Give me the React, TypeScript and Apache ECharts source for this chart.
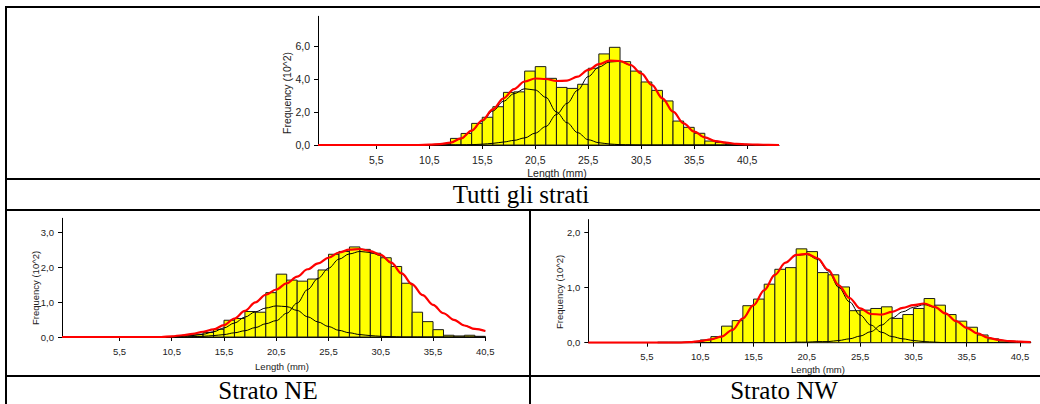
import React, { useEffect, useRef } from "react";
import * as echarts from "echarts";

// Shared x tick positions (bin edges every 5 mm)
const xTickValues = [5.5, 10.5, 15.5, 20.5, 25.5, 30.5, 35.5, 40.5];

// ---- Tutti gli strati ----
const allBins = [10, 11, 12, 13, 14, 15, 16, 17, 18, 19, 20, 21, 22, 23, 24, 25, 26, 27, 28, 29, 30, 31, 32, 33, 34, 35, 36, 37, 38, 39, 40, 41, 42];
const allFreq = [0.02, 0.03, 0.06, 0.4, 0.7, 1.31, 1.68, 2.32, 3.19, 3.22, 4.48, 4.75, 4.04, 3.49, 3.43, 3.68, 4.65, 5.52, 5.92, 5.05, 4.48, 3.82, 3.31, 2.67, 1.45, 1.07, 0.71, 0.24, 0.16, 0.06, 0.04, 0.02, 0.01];
const allCurveX = [0, 9.5, 10.5, 11.5, 12.5, 13.5, 14.5, 15.5, 16.5, 17.5, 18.5, 19.5, 20.5, 21.5, 22.5, 23.5, 24.5, 25.5, 26.5, 27.5, 28.5, 29.5, 30.5, 31.5, 32.5, 33.5, 34.5, 35.5, 36.5, 37.5, 38.5, 39.5, 40.5, 41.5, 42.5, 43.5];
const allFit = [0, 0, 0.02, 0.05, 0.14, 0.4, 0.87, 1.5, 2.16, 2.83, 3.39, 3.85, 4.03, 4.0, 3.88, 3.9, 4.14, 4.55, 4.9, 5.11, 5.09, 4.85, 4.34, 3.64, 2.83, 2.02, 1.31, 0.81, 0.46, 0.24, 0.14, 0.07, 0.04, 0.02, 0.01, 0];
const allComp1 = [0, 0, 0.02, 0.05, 0.13, 0.38, 0.85, 1.45, 2.06, 2.65, 3.11, 3.41, 3.33, 2.89, 2.0, 1.35, 0.75, 0.32, 0.14, 0.06, 0.02, 0.01, 0, 0, 0, 0, 0, 0, 0, 0, 0, 0, 0, 0, 0, 0];
const allComp2 = [0, 0, 0, 0, 0.01, 0.01, 0.02, 0.05, 0.1, 0.18, 0.28, 0.43, 0.72, 1.12, 1.85, 2.52, 3.32, 4.15, 4.72, 5.03, 5.07, 4.84, 4.34, 3.64, 2.83, 2.02, 1.31, 0.81, 0.46, 0.24, 0.13, 0.06, 0.03, 0.01, 0, 0];
const allYTicks = [0, 2, 4, 6];

// ---- Strato NE ----
const neBins = [9, 10, 11, 12, 13, 14, 15, 16, 17, 18, 19, 20, 21, 22, 23, 24, 25, 26, 27, 28, 29, 30, 31, 32, 33, 34, 35, 36, 37, 38, 39, 40];
const neFreq = [0.01, 0.01, 0.02, 0.05, 0.08, 0.13, 0.22, 0.48, 0.53, 0.73, 0.71, 1.27, 1.8, 1.63, 1.6, 1.66, 1.92, 2.37, 2.45, 2.58, 2.51, 2.4, 2.27, 2.02, 1.54, 0.71, 0.44, 0.21, 0.05, 0.03, 0.05, 0.02];
const neCurveX = [0, 9.5, 10.5, 11.5, 12.5, 13.5, 14.5, 15.5, 16.5, 17.5, 18.5, 19.5, 20.5, 21.5, 22.5, 23.5, 24.5, 25.5, 26.5, 27.5, 28.5, 29.5, 30.5, 31.5, 32.5, 33.5, 34.5, 35.5, 36.5, 37.5, 38.5, 39.5, 40.5];
const neFit = [0, 0, 0.02, 0.05, 0.09, 0.15, 0.22, 0.34, 0.53, 0.75, 0.99, 1.21, 1.36, 1.54, 1.73, 1.94, 2.11, 2.27, 2.42, 2.5, 2.52, 2.46, 2.35, 2.13, 1.82, 1.51, 1.2, 0.92, 0.68, 0.49, 0.33, 0.23, 0.17];
const neComp1 = [0, 0, 0.01, 0.02, 0.04, 0.08, 0.15, 0.26, 0.4, 0.57, 0.72, 0.83, 0.89, 0.87, 0.76, 0.58, 0.43, 0.3, 0.19, 0.12, 0.07, 0.04, 0.02, 0.01, 0, 0, 0, 0, 0, 0, 0, 0, 0];
const neComp2 = [0, 0, 0, 0, 0.01, 0.02, 0.04, 0.07, 0.12, 0.18, 0.27, 0.38, 0.47, 0.68, 0.97, 1.36, 1.68, 1.97, 2.23, 2.38, 2.45, 2.42, 2.33, 2.12, 1.81, 1.51, 1.2, 0.92, 0.68, 0.49, 0.33, 0.23, 0.17];
const neYTicks = [0, 1, 2, 3];

// ---- Strato NW ----
const nwBins = [7, 8, 9, 10, 11, 12, 13, 14, 15, 16, 17, 18, 19, 20, 21, 22, 23, 24, 25, 26, 27, 28, 29, 30, 31, 32, 33, 34, 35, 36, 37, 38, 39, 40, 41];
const nwFreq = [0.01, 0.01, 0.01, 0.02, 0.05, 0.11, 0.3, 0.4, 0.67, 0.79, 1.06, 1.33, 1.36, 1.7, 1.65, 1.27, 1.23, 1.01, 0.58, 0.59, 0.62, 0.65, 0.44, 0.51, 0.62, 0.8, 0.68, 0.51, 0.39, 0.28, 0.14, 0.07, 0.03, 0.02, 0.01];
const nwCurveX = [0, 8.5, 9.5, 10.5, 11.5, 12.5, 13.5, 14.5, 15.5, 16.5, 17.5, 18.5, 19.5, 20.5, 21.5, 22.5, 23.5, 24.5, 25.5, 26.5, 27.5, 28.5, 29.5, 30.5, 31.5, 32.5, 33.5, 34.5, 35.5, 36.5, 37.5, 38.5, 39.5, 40.5, 41.5];
const nwFit = [0, 0, 0.01, 0.03, 0.06, 0.11, 0.23, 0.44, 0.68, 0.95, 1.23, 1.45, 1.59, 1.61, 1.53, 1.32, 1.04, 0.81, 0.62, 0.52, 0.51, 0.56, 0.63, 0.68, 0.71, 0.65, 0.53, 0.39, 0.27, 0.17, 0.09, 0.05, 0.03, 0.02, 0.01];
const nwComp1 = [0, 0, 0.01, 0.03, 0.06, 0.11, 0.23, 0.44, 0.68, 0.95, 1.23, 1.45, 1.58, 1.6, 1.51, 1.3, 1.0, 0.74, 0.5, 0.32, 0.19, 0.11, 0.07, 0.04, 0.02, 0.01, 0, 0, 0, 0, 0, 0, 0, 0, 0];
const nwComp2 = [0, 0, 0, 0, 0, 0, 0, 0, 0, 0, 0, 0, 0.01, 0.01, 0.02, 0.02, 0.04, 0.07, 0.12, 0.2, 0.32, 0.45, 0.56, 0.64, 0.69, 0.64, 0.53, 0.39, 0.27, 0.17, 0.09, 0.05, 0.03, 0.02, 0.01];
const nwYTicks = [0, 1, 2];

const captions = ["Tutti gli strati", "Strato NE", "Strato NW"];
const xName = "Length (mm)";
const yName = "Frequency (10^2)";

const fmt = (v: number) => v.toFixed(1).replace(".", ",");
const pairs = (xs: number[], ys: number[]) => xs.map((x, i) => [x, ys[i]]);

const panels = [
  {
    grid: { left: 318, top: 16.3, width: 461, height: 128.7 },
    xMax: 43.5, yMax: 7.8, font: 10.5, yTicks: allYTicks,
    bins: allBins, freq: allFreq, cx: allCurveX, fit: allFit, c1: allComp1, c2: allComp2,
    xNamePos: [557, 172.5], yNamePos: [287, 93],
  },
  {
    grid: { left: 62, top: 218.3, width: 423.3, height: 118.7 },
    xMax: 40.5, yMax: 3.4, font: 9.5, yTicks: neYTicks,
    bins: neBins, freq: neFreq, cx: neCurveX, fit: neFit, c1: neComp1, c2: neComp2,
    xNamePos: [282, 366.5], yNamePos: [35, 288],
  },
  {
    grid: { left: 588.3, top: 219.6, width: 442.4, height: 123.1 },
    xMax: 41.5, yMax: 2.23, font: 9.5, yTicks: nwYTicks,
    bins: nwBins, freq: nwFreq, cx: nwCurveX, fit: nwFit, c1: nwComp1, c2: nwComp2,
    xNamePos: [818, 369.5], yNamePos: [559, 292],
  },
];

const SANS = "'Liberation Sans', Arial, sans-serif";
const SERIF = "'Liberation Serif', 'Times New Roman', serif";

function buildOption() {
  const grids: any[] = [];
  const xAxes: any[] = [];
  const yAxes: any[] = [];
  const series: any[] = [];
  const graphics: any[] = [];

  panels.forEach((p, i) => {
    grids.push({ ...p.grid, outerBoundsMode: "none", containLabel: false });
    xAxes.push({
      type: "value",
      gridIndex: i,
      min: 0,
      max: p.xMax,
      axisLine: { show: true, onZero: false, lineStyle: { color: "#000", width: 1 } },
      axisTick: { show: true, length: 4, customValues: xTickValues, lineStyle: { color: "#000" } },
      axisLabel: {
        customValues: xTickValues,
        formatter: fmt,
        fontFamily: SANS,
        fontSize: p.font,
        color: "#222",
        margin: 9,
      },
      splitLine: { show: false },
    });
    yAxes.push({
      type: "value",
      gridIndex: i,
      min: 0,
      max: p.yMax,
      axisLine: { show: true, lineStyle: { color: "#000", width: 1 } },
      axisTick: { show: true, length: 4, customValues: p.yTicks, lineStyle: { color: "#000" } },
      axisLabel: {
        customValues: p.yTicks,
        formatter: fmt,
        fontFamily: SANS,
        fontSize: p.font,
        color: "#222",
        margin: 8,
      },
      splitLine: { show: false },
    });

    // Histogram: one rectangle per 1 mm bin, centred on the bin value
    series.push({
      type: "custom",
      xAxisIndex: i,
      yAxisIndex: i,
      z: 2,
      encode: { x: 0, y: 1 },
      data: pairs(p.bins, p.freq),
      renderItem: (_params: any, api: any) => {
        const x = api.value(0);
        const y = api.value(1);
        const a = api.coord([x - 0.5, y]);
        const b = api.coord([x + 0.5, 0]);
        return {
          type: "rect",
          shape: { x: a[0], y: a[1], width: b[0] - a[0], height: b[1] - a[1] },
          style: { fill: "#ffff00", stroke: "#1a1a1a", lineWidth: 1 },
        };
      },
    });

    // Normal components (thin black) and fitted mixture (red)
    [p.c1, p.c2].forEach((c) => {
      series.push({
        type: "line",
        xAxisIndex: i,
        yAxisIndex: i,
        z: 3,
        data: pairs(p.cx, c),
        symbol: "none",
        smooth: 0.35,
        smoothMonotone: "x",
        lineStyle: { color: "#000", width: 1 },
        silent: true,
      });
    });
    series.push({
      type: "line",
      xAxisIndex: i,
      yAxisIndex: i,
      z: 4,
      data: pairs(p.cx, p.fit),
      symbol: "none",
      smooth: 0.35,
      smoothMonotone: "x",
      lineStyle: { color: "#ff0000", width: 2.2 },
      silent: true,
    });

    graphics.push({
      type: "text",
      x: p.xNamePos[0],
      y: p.xNamePos[1],
      style: { text: xName, font: `${p.font}px ${SANS}`, fill: "#222", align: "center", verticalAlign: "middle" },
    });
    graphics.push({
      type: "text",
      x: p.yNamePos[0],
      y: p.yNamePos[1],
      rotation: Math.PI / 2,
      style: { text: yName, font: `${p.font}px ${SANS}`, fill: "#222", align: "center", verticalAlign: "middle" },
    });
  });

  // Table frame
  const rule = (x: number, y: number, w: number, h: number) => ({
    type: "rect",
    shape: { x, y, width: w, height: h },
    style: { fill: "#000" },
    silent: true,
  });
  graphics.push(rule(5, 6, 1035, 2));
  graphics.push(rule(5, 6, 2, 398));
  graphics.push(rule(5, 178, 1035, 2));
  graphics.push(rule(5, 209, 1035, 2));
  graphics.push(rule(5, 375, 1035, 2));
  graphics.push(rule(529, 209, 2, 195));

  // Row captions
  const capPos = [
    [521, 194],
    [268, 390.5],
    [784, 390.5],
  ];
  captions.forEach((t, i) => {
    graphics.push({
      type: "text",
      x: capPos[i][0],
      y: capPos[i][1],
      style: { text: t, font: `25px ${SERIF}`, fill: "#000", align: "center", verticalAlign: "middle" },
    });
  });

  return {
    animation: false,
    backgroundColor: "#ffffff",
    grid: grids,
    xAxis: xAxes,
    yAxis: yAxes,
    series,
    graphic: graphics,
  };
}

export default function App() {
  const ref = useRef<HTMLDivElement>(null);
  useEffect(() => {
    if (!ref.current) return;
    const chart = echarts.init(ref.current, undefined, { renderer: "svg" });
    chart.setOption(buildOption() as any);
    return () => chart.dispose();
  }, []);
  return (
    <div
      ref={ref}
      style={{ position: "fixed", left: 0, top: 0, width: 1040, height: 404, background: "#fff" }}
    />
  );
}
